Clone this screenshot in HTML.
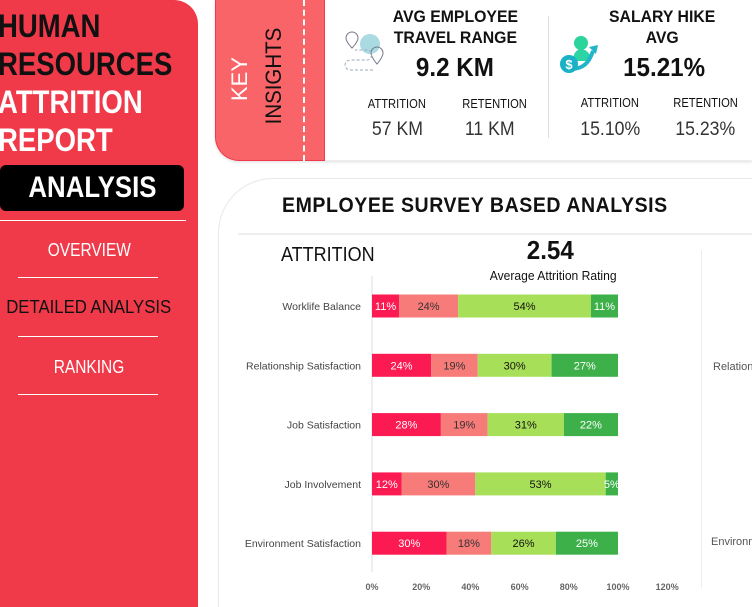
<!DOCTYPE html>
<html><head><meta charset="utf-8"><style>
*{box-sizing:border-box;margin:0;padding:0}
body{width:752px;height:607px;overflow:hidden;background:#fff;font-family:"Liberation Sans",sans-serif;position:relative;color:#111}
#wrap{position:absolute;left:0;top:0;width:752px;height:607px;overflow:hidden}
.abs{position:absolute}
.c{display:inline-block;transform:scaleX(.86);transform-origin:left center;white-space:nowrap}
.cc{display:inline-block;transform:scaleX(.86);transform-origin:center;white-space:nowrap}
.cw{display:inline-block;transform:scaleX(.93);transform-origin:center;white-space:nowrap}
#side{left:0;top:0;width:198px;height:607px;background:#f03a4a;border-top-right-radius:24px}
.tt{color:#111;font-weight:bold;font-size:32px;line-height:38px;left:-2px}
.nav{color:#fff;font-size:18px;width:178px;text-align:center;left:0}
.hr{height:1px;background:#fff;left:18px;width:140px}
</style></head><body><div id="wrap">
<div id="side" class="abs"></div>
<div class="abs tt" style="top:7px"><span class="c">HUMAN</span></div>
<div class="abs tt" style="top:45px"><span class="c">RESOURCES</span></div>
<div class="abs tt" style="top:83px;color:#fff"><span class="c">ATTRITION</span></div>
<div class="abs tt" style="top:121px;color:#fff"><span class="c">REPORT</span></div>
<div class="abs" style="left:0;top:165px;width:184px;height:46px;background:#000;border-radius:6px;color:#fff;font-size:30px;font-weight:bold;text-align:center;line-height:46px"><span class="cc">ANALYSIS</span></div>
<div class="abs hr" style="top:220px;left:0;width:186px"></div>
<div class="abs nav" style="top:240px"><span class="cc">OVERVIEW</span></div>
<div class="abs hr" style="top:277px"></div>
<div class="abs nav" style="top:297px;color:#111"><span class="cw">DETAILED ANALYSIS</span></div>
<div class="abs hr" style="top:336px"></div>
<div class="abs nav" style="top:357px"><span class="cc">RANKING</span></div>
<div class="abs hr" style="top:394px"></div>

<div class="abs" style="left:215px;top:0;width:537px;height:161px;border:1px solid #eee;border-right:none;border-top:none;border-bottom-left-radius:24px;box-shadow:0 1px 3px #ddd"></div>
<div class="abs" style="left:215px;top:0;width:110px;height:161px;background:#f86468;border:1px solid #f03a4a;border-top:none;border-radius:0 0 0 24px"></div>
<div class="abs" style="left:303px;top:0;height:161px;border-left:2px dashed #fff"></div>
<div class="abs" style="left:200px;top:68px;width:80px;transform:rotate(-90deg);text-align:center;font-size:22px;line-height:22px;color:#fff">KEY</div>
<div class="abs" style="left:219px;top:65px;width:110px;transform:rotate(-90deg);text-align:center;font-size:22px;line-height:22px;color:#111"><span class="cw">INSIGHTS</span></div>

<svg class="abs" style="left:343px;top:30px" width="46" height="45"><circle cx="27" cy="14" r="10" fill="#aadbe3"/><path d="M9 2a6 6 0 0 1 6 6c0 4-6 10-6 10s-6-6-6-10a6 6 0 0 1 6-6z" fill="none" stroke="#778"/><path d="M34 17a6 6 0 0 1 6 6c0 4-6 11-6 11s-6-7-6-11a6 6 0 0 1 6-6z" fill="none" stroke="#778"/><path d="M30 40H8c-8 0-8-10 0-10h16c6 0 6-10 0-10H12" fill="none" stroke="#9ab" stroke-dasharray="3 2"/></svg>
<div class="abs" style="left:385px;top:6px;width:140px;text-align:center;font-weight:bold;font-size:17px;line-height:21px"><span class="cw">AVG EMPLOYEE<br>TRAVEL RANGE</span></div>
<div class="abs" style="left:385px;top:52px;width:140px;text-align:center;font-weight:bold;font-size:26px"><span class="cw">9.2 KM</span></div>
<div class="abs" style="left:357px;top:96px;width:80px;text-align:center;font-size:13px"><span class="cc">ATTRITION</span></div>
<div class="abs" style="left:455px;top:96px;width:80px;text-align:center;font-size:13px"><span class="cc">RETENTION</span></div>
<div class="abs" style="left:357px;top:119px;width:80px;text-align:center;font-size:19px;color:#333"><span class="cw">57 KM</span></div>
<div class="abs" style="left:450px;top:119px;width:80px;text-align:center;font-size:19px;color:#333"><span class="cw">11 KM</span></div>
<div class="abs" style="left:548px;top:16px;height:122px;border-left:1px solid #ddd"></div>
<svg class="abs" style="left:559px;top:33px" width="44" height="42"><path d="M14 28c0-10 6-12 8-12s10 2 10 12z" fill="#2bd4a4"/><circle cx="22" cy="10" r="7" fill="#2bd49a"/><path d="M12 36c12 0 18-6 22-18" fill="none" stroke="#22b4c8" stroke-width="4"/><path d="M30 14l9-2-2 9z" fill="#22b4c8"/><circle cx="10" cy="31" r="9" fill="#1ab0c6"/><text x="10" y="36" font-size="13" text-anchor="middle" fill="#fff" font-weight="bold">$</text></svg>
<div class="abs" style="left:592px;top:6px;width:140px;text-align:center;font-weight:bold;font-size:17px;line-height:21px"><span class="cw">SALARY HIKE<br>AVG</span></div>
<div class="abs" style="left:594px;top:52px;width:140px;text-align:center;font-weight:bold;font-size:26px"><span class="cw">15.21%</span></div>
<div class="abs" style="left:570px;top:95px;width:80px;text-align:center;font-size:13px"><span class="cc">ATTRITION</span></div>
<div class="abs" style="left:666px;top:95px;width:80px;text-align:center;font-size:13px"><span class="cc">RETENTION</span></div>
<div class="abs" style="left:570px;top:119px;width:80px;text-align:center;font-size:19px;color:#333"><span class="cw">15.10%</span></div>
<div class="abs" style="left:665px;top:119px;width:80px;text-align:center;font-size:19px;color:#333"><span class="cw">15.23%</span></div>

<div class="abs" style="left:218px;top:178px;width:534px;height:429px;border:1px solid #e8e8e8;border-right:none;border-bottom:none;border-radius:55px 0 0 0"></div>
<div class="abs" style="left:282px;top:194px;font-weight:bold;font-size:21px;letter-spacing:0.6px"><span class="c" style="transform:scaleX(.93)">EMPLOYEE SURVEY BASED ANALYSIS</span></div>
<div class="abs" style="left:238px;top:233px;width:514px;height:2px;background:#eee"></div>
<div class="abs" style="left:281px;top:244px;font-size:20px"><span class="c" style="transform:scaleX(.9)">ATTRITION</span></div>
<div class="abs" style="left:490px;top:235px;width:120px;text-align:center;font-size:26px;font-weight:bold"><span class="cw">2.54</span></div>
<div class="abs" style="left:463px;top:268px;width:180px;text-align:center;font-size:13px"><span class="cw">Average Attrition Rating</span></div>
<div class="abs" style="left:701px;top:250px;height:338px;border-left:1px solid #eee"></div>
<div class="abs" style="left:713px;top:361px;font-size:11px;color:#555">Relationship</div>
<div class="abs" style="left:711px;top:536px;font-size:11px;color:#555">Environment</div>

<svg id="chart" class="abs" style="left:0;top:0" width="752" height="607"></svg>
</div>
<script>
const categories=["Worklife Balance","Relationship Satisfaction","Job Satisfaction","Job Involvement","Environment Satisfaction"];
const rating1=[11,24,28,12,30];
const rating2=[24,19,19,30,18];
const rating3=[54,30,31,53,26];
const rating4=[11,27,22,5,25];
const ticks=[0,20,40,60,80,100,120];
const series=[rating1,rating2,rating3,rating4];
const colors=["#fc1a52","#f77b78","#a8df58","#3db04a"];
const txt=["#fff","#333","#111","#fff"];
const x0=372,pxPer=2.46,y0=306,step=59.3,bh=23;
const X=v=>x0+v*pxPer, Y=i=>y0+i*step;
const svg=document.getElementById('chart');const NS="http://www.w3.org/2000/svg";
const FF='Liberation Sans,sans-serif';
function mk(t,a){const e=document.createElementNS(NS,t);for(const k in a)e.setAttribute(k,a[k]);svg.appendChild(e);return e;}
const ax=mk('line',{x1:x0,x2:x0,y1:276,y2:572,stroke:'#ddd'});


ticks.forEach(t=>{const e=mk('text',{x:X(t),y:590,'font-size':9,fill:'#666','text-anchor':'middle','font-family':FF,'font-weight':'bold'});e.textContent=t+'%';

});
categories.forEach((c,i)=>{const l=mk('text',{x:361,y:Y(i)+4,'font-size':10.5,fill:'#444','text-anchor':'end','font-family':FF});l.textContent=c;


const tot=series.reduce((s,a)=>s+a[i],0);let acc=0;
series.forEach((a,k)=>{const v=a[i]/tot*100;const r=mk('rect',{x:X(acc),y:Y(i)-bh/2,width:v*pxPer,height:bh,fill:colors[k]});


const t=mk('text',{x:X(acc+v/2),y:Y(i)+4,'font-size':11,fill:txt[k],'text-anchor':'middle','font-family':FF});t.textContent=a[i]+'%';


acc+=v;});});
</script>
</body></html>
